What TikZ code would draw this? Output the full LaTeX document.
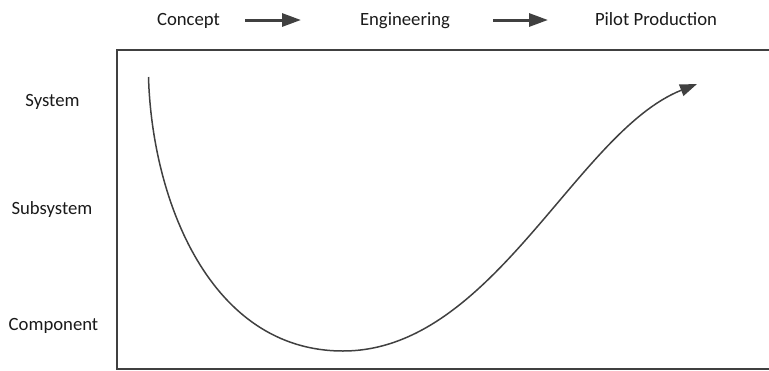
\documentclass[tikz,border=0pt]{standalone}
\usepackage{fontspec}
\setmainfont{Carlito}
\usetikzlibrary{arrows.meta}
\definecolor{linegray}{HTML}{404040}
\definecolor{txt}{HTML}{1A1A1A}
\tikzset{
  lbl/.style={font=\fontsize{18.7}{22}\selectfont, text=txt, inner sep=0pt, anchor=base},
  flow/.style={draw=linegray, line width=3pt, -{Triangle[length=19pt,width=13pt]}},
  frame/.style={draw=linegray, line width=2.3pt},
  curve/.style={draw=linegray, line width=1.5pt, -{Triangle[length=17pt,width=12pt]}}
}
\begin{document}
\begin{tikzpicture}[x=1pt,y=-1pt]
\useasboundingbox (0,0) rectangle (769,370);
% top labels
\node[lbl] (concept) at (188.5,25.5) {Concept};
\node[lbl] (eng) at (405,25.5) {Engineering};
\node[lbl] (pilot) at (656,25.5) {Pilot Production};
\coordinate (a1s) at (245,20);
\coordinate (a1e) at (301,20);
\coordinate (a2s) at (493,20);
\coordinate (a2e) at (548,20);
\draw[flow] (a1s) -- (a1e);
\draw[flow] (a2s) -- (a2e);
% left labels
\node[lbl] (system) at (52.5,106) {System};
\node[lbl] (subsystem) at (52,214) {Subsystem};
\node[lbl] (component) at (53.5,330.5) {Component};
% frame
\coordinate (ftr) at (772,50);
\coordinate (ftl) at (117,50);
\coordinate (fbl) at (117,369);
\coordinate (fbr) at (772,369);
\draw[frame] (ftr) -- (ftl) -- (fbl) -- (fbr);
% curve
\coordinate (cstart) at (148.5,77);
\coordinate (cbottom) at (343,351);
\coordinate (ctip) at (697,84);
\draw[curve] (cstart) .. controls (152,200) and (210,351) .. (cbottom)
  .. controls (493,351) and (576,132) .. (ctip);
\end{tikzpicture}
\end{document}
